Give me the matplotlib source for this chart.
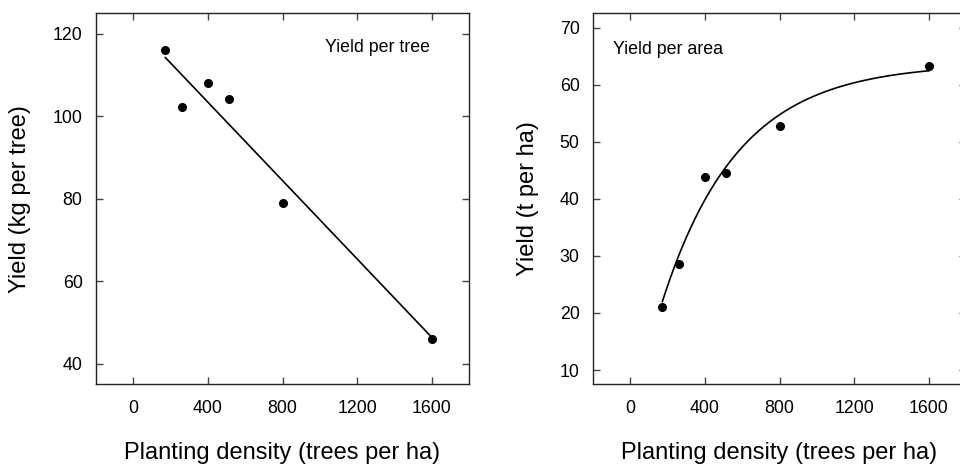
import numpy as np
import matplotlib.pyplot as plt

plt.rcParams["font.family"] = ["Liberation Sans", "DejaVu Sans"]

# planting density (trees per ha)
density_tree = [173, 262, 400, 513, 800, 1600]
yield_tree = [116.1, 102.3, 108.1, 104.2, 79.1, 46.1]   # kg per tree

density_area = [173, 263, 400, 515, 800, 1600]
yield_area = [21.1, 28.6, 43.8, 44.5, 52.8, 63.2]       # t per ha

# fitted models
lin_a, lin_b = 122.5, -0.0476          # y = a + b*x
mono_a, mono_c = 63.7, 0.00245         # y = a*(1 - exp(-c*x))

xticks = [0, 400, 800, 1200, 1600]

fig = plt.figure(figsize=(9.6, 4.67), dpi=100)
ax1 = fig.add_axes([0.0997, 0.1771, 0.3892, 0.7944])
ax2 = fig.add_axes([0.6174, 0.1771, 0.3892, 0.7944])


def style(ax):
    for s in ax.spines.values():
        s.set_linewidth(1.0)
        s.set_color("#222222")
    ax.tick_params(direction="in", length=5, width=1, color="#444444",
                   top=True, right=True, labelsize=12.8)
    ax.tick_params(axis="x", pad=11)
    ax.tick_params(axis="y", pad=9.5)
    ax.set_xlim(-200, 1800)
    ax.set_xticks(xticks)
    ax.set_xlabel("Planting density (trees per ha)", fontsize=17, va="center")
    ax.xaxis.set_label_coords(0.5, -0.185)


# yield per tree
style(ax1)
xs = np.linspace(density_tree[0], density_tree[-1], 50)
ax1.plot(xs, lin_a + lin_b * xs, color="black", lw=1.2)
ax1.plot(density_tree, yield_tree, "o", color="black", ms=5.5)
ax1.set_ylim(35, 125)
ax1.set_yticks([40, 60, 80, 100, 120])
ax1.set_ylabel("Yield (kg per tree)", fontsize=17, va="center")
ax1.yaxis.set_label_coords(-0.2026, 0.5)
ax1.text(0.614, 0.907, "Yield per tree", transform=ax1.transAxes,
         fontsize=12.8, va="center", ha="left")

# yield per area
style(ax2)
xs = np.linspace(density_area[0], density_area[-1], 200)
ax2.plot(xs, mono_a * (1 - np.exp(-mono_c * xs)), color="black", lw=1.2)
ax2.plot(density_area, yield_area, "o", color="black", ms=5.5)
ax2.set_ylim(7.5, 72.5)
ax2.set_yticks([10, 20, 30, 40, 50, 60, 70])
ax2.set_ylabel("Yield (t per ha)", fontsize=17, va="center")
ax2.yaxis.set_label_coords(-0.1745, 0.5)
ax2.text(0.055, 0.903, "Yield per area", transform=ax2.transAxes,
         fontsize=12.8, va="center", ha="left")

fig.savefig("out.png", dpi=100)
plt.close(fig)
